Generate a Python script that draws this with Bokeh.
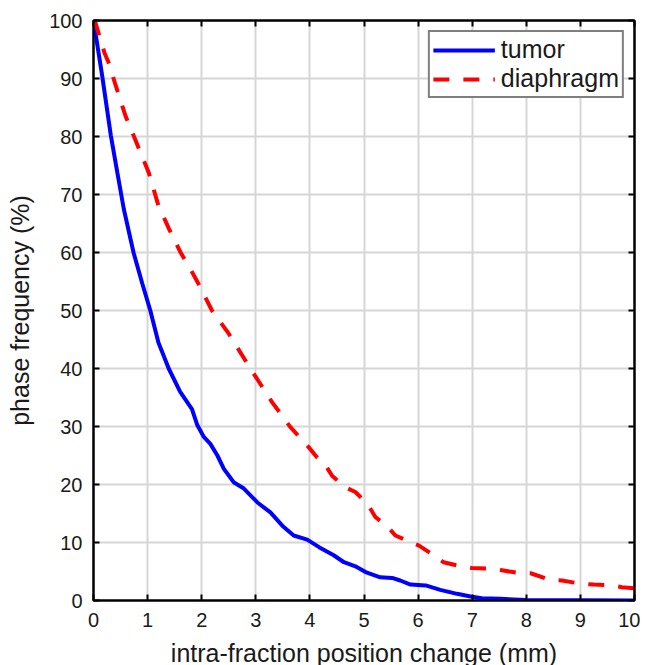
from bokeh.plotting import figure
from bokeh.models import LinearAxis, FixedTicker, Legend, LegendItem, Range1d, CustomLabelingPolicy
from bokeh.embed import file_html
from bokeh.resources import INLINE

# ---- data ----
tumor_x = [0, 0.16, 0.32, 0.44, 0.56, 0.74, 0.9, 1.05, 1.2, 1.39, 1.6, 1.82, 1.92, 2.04,
           2.16, 2.29, 2.41, 2.59, 2.78, 3.03, 3.27, 3.49, 3.7, 3.95, 4.17, 4.44, 4.63,
           4.84, 5.03, 5.3, 5.52, 5.67, 5.86, 6.14, 6.41, 6.72, 6.97, 7.18, 7.52, 8.0, 10]
tumor_y = [100, 90.5, 80.2, 73.8, 67.5, 60, 54.7, 50, 44.5, 40, 36, 33, 30.2, 28.2,
           27, 25, 22.7, 20.4, 19.3, 16.9, 15.2, 12.9, 11.2, 10.5, 9.2, 7.8, 6.6,
           5.9, 4.9, 4.0, 3.9, 3.45, 2.75, 2.6, 1.84, 1.15, 0.69, 0.4, 0.29, 0.1, 0]

diaph_x = [0, 0.04, 0.2, 0.29, 0.41, 0.59, 0.84, 1.02, 1.2, 1.4, 1.61, 1.8, 1.94, 2.19,
           2.5, 2.9, 3.3, 3.64, 3.98, 4.13, 4.29, 4.41, 4.66, 4.84, 5.06, 5.21, 5.45,
           5.58, 5.86, 6.01, 6.29, 6.47, 6.78, 7.0, 7.34, 7.55, 7.89, 8.08, 8.42, 8.66,
           9.0, 9.25, 9.56, 9.77, 10, 10]
diaph_y = [100, 99.5, 94.5, 92.5, 88.8, 83.6, 77.9, 73.8, 68.1, 64, 60, 57, 54.6, 50,
           46, 40, 34.2, 29.9, 26.4, 24.7, 23.3, 21.5, 19.5, 18.7, 16.7, 14.4, 12.6,
           11.2, 10.05, 9.5, 7.8, 6.6, 5.9, 5.6, 5.5, 5.2, 4.7, 4.7, 3.6, 3.45,
           2.9, 2.75, 2.6, 2.3, 2.1, 0]

x_ticks = list(range(0, 11))
y_ticks = list(range(0, 101, 10))

FONT = "Liberation Sans"
TXT = "#1a1a1a"

p = figure(frame_width=541, frame_height=580, output_backend="svg", toolbar_location=None,
           x_range=Range1d(0, 10), y_range=Range1d(0, 100),
           min_border_left=93, min_border_right=6, min_border_top=20, min_border_bottom=60)

p.background_fill_color = "white"
p.border_fill_color = "white"
p.outline_line_color = "black"
p.outline_line_width = 2

# grid
p.xgrid.ticker = FixedTicker(ticks=x_ticks)
p.ygrid.ticker = FixedTicker(ticks=y_ticks)
for g in (p.xgrid, p.ygrid):
    g.grid_line_color = "#d6d6d6"
    g.grid_line_width = 2

hide_labels = CustomLabelingPolicy(code="""
    for (const i of Array.from(indices)) { indices.unset(i) }
    return indices
""")

def style_axis(ax, ticks, labels=True):
    ax.ticker = FixedTicker(ticks=ticks)
    ax.axis_line_color = "black"
    ax.axis_line_width = 2
    ax.major_tick_line_color = "black"
    ax.major_tick_line_width = 2
    ax.major_tick_in = 6
    ax.major_tick_out = 0
    ax.minor_tick_line_color = None
    if labels:
        ax.major_label_text_font = FONT
        ax.major_label_text_font_size = "20px"
        ax.major_label_text_color = TXT
        ax.axis_label_text_font = FONT
        ax.axis_label_text_font_size = "25px"
        ax.axis_label_text_color = TXT
        ax.axis_label_text_font_style = "normal"
    else:
        ax.major_label_policy = hide_labels
        ax.major_label_text_font_size = "0px"
        ax.major_label_standoff = 0

style_axis(p.xaxis[0], x_ticks)
p.xaxis[0].axis_label = "intra-fraction position change (mm)"
p.xaxis[0].major_label_standoff = 12
p.xaxis[0].axis_label_standoff = 9

style_axis(p.yaxis[0], y_ticks)
p.yaxis[0].axis_label = "phase frequency (%)"
p.yaxis[0].major_label_standoff = 11
p.yaxis[0].axis_label_standoff = 12

top_ax = LinearAxis()
style_axis(top_ax, x_ticks, labels=False)
p.add_layout(top_ax, "above")
right_ax = LinearAxis()
style_axis(right_ax, y_ticks, labels=False)
p.add_layout(right_ax, "right")

r1 = p.line(tumor_x, tumor_y, line_color="#0000ff", line_width=4)
r2 = p.line(diaph_x, diaph_y, line_color="#ff0000", line_width=4, line_dash="16 14")

legend = Legend(items=[LegendItem(label="tumor", renderers=[r1]),
                       LegendItem(label="diaphragm", renderers=[r2])],
                location="top_right")
legend.margin = 10
legend.padding = 3
legend.spacing = 0
legend.glyph_width = 62
legend.glyph_height = 24
legend.label_height = 24
legend.label_standoff = 6
legend.label_text_font = FONT
legend.label_text_font_size = "25px"
legend.label_text_color = TXT
legend.border_line_color = "black"
legend.border_line_width = 2
legend.background_fill_color = "white"
legend.background_fill_alpha = 1
p.add_layout(legend, "center")

open("out.html", "w").write(file_html(p, INLINE))
